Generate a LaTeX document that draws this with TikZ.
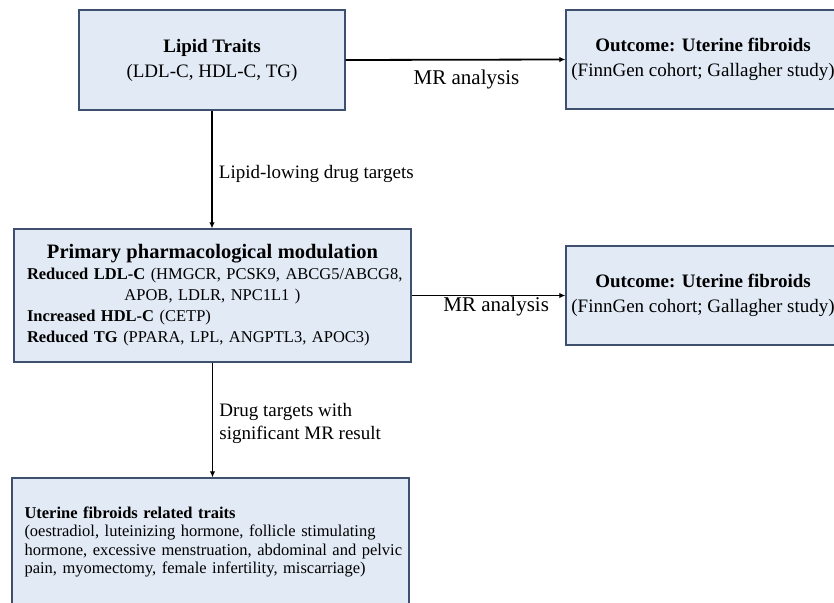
\documentclass[tikz,border=0pt]{standalone}
\usepackage{fontspec}
\setmainfont{Liberation Serif}
\usepackage{tikz}
\usetikzlibrary{arrows.meta}

\definecolor{boxfill}{RGB}{226,234,245}
\definecolor{boxline}{RGB}{62,80,110}

\begin{document}
\begin{tikzpicture}[x=1pt,y=-1pt]
\tikzstyle{box}=[draw=boxline,fill=boxfill,line width=1.3pt,inner sep=0pt,align=center,font=\fontsize{19}{25}\selectfont];
\tikzstyle{arr}=[draw,line width=1.8pt,-{Latex[length=6pt,width=5.5pt]}];
\tikzstyle{lbl}=[font=\fontsize{19}{23}\selectfont,align=left,inner sep=0pt,anchor=west,xshift=6pt];
\tikzstyle{mrlbl}=[font=\fontsize{21}{25}\selectfont,inner sep=0pt];
\clip (0,0) rectangle (834,602);
\fill[white] (0,0) rectangle (834,602);
\node[box,minimum width=266pt,minimum height=100pt] (lipid) at (212,60)
	{\textbf{Lipid Traits}\\(LDL-C, HDL-C, TG)};
\node[box,minimum width=274pt,minimum height=99pt] (out1) at (703,59.5)
	{\textbf{Outcome: Uterine fibroids}\\(FinnGen cohort; Gallagher study)};
\node[box,minimum width=397pt,minimum height=133pt,text width=371pt,
	font=\fontsize{16.5}{21}\selectfont] (mod) at (212.5,295.5)
	{{\fontsize{20.5}{21}\selectfont\bfseries Primary pharmacological modulation}\\
	\makebox[371pt][l]{\textbf{Reduced LDL-C} (HMGCR, PCSK9, ABCG5/ABCG8,}\\
	APOB, LDLR, NPC1L1 )\\
	\makebox[371pt][l]{\textbf{Increased HDL-C} (CETP)}\\
	\makebox[371pt][l]{\textbf{Reduced TG} (PPARA, LPL, ANGPTL3, APOC3)}};
\node[box,minimum width=274pt,minimum height=99pt] (out2) at (703,295.5)
	{\textbf{Outcome: Uterine fibroids}\\(FinnGen cohort; Gallagher study)};
\node[box,minimum width=397pt,minimum height=128pt,text width=372pt,align=left,
	font=\fontsize{16.5}{18.5}\selectfont] (traits) at (210.5,542)
	{\textbf{Uterine fibroids related traits}\\
	\mbox{(oestradiol, luteinizing hormone, follicle stimulating}\\
	\mbox{hormone, excessive menstruation, abdominal and pelvic}\\
	\mbox{pain, myomectomy, female infertility, miscarriage)}};

\draw[arr] (lipid.east) -- node[mrlbl,pos=.55,yshift=-20pt] (mr1) {MR analysis} (out1.west);
\draw[arr] (mod.east |- out2.west) -- node[mrlbl,pos=.55,yshift=-11pt] (mr2) {MR analysis} (out2.west);
\draw[arr] (lipid.south) -- node[lbl,pos=.54] (lowing) {Lipid-lowing drug targets} (lipid.south |- mod.north);
\draw[arr] (mod.south) -- node[lbl,pos=.53] (signif) {Drug targets with\\significant MR result} (mod.south |- traits.north);
\end{tikzpicture}
\end{document}
